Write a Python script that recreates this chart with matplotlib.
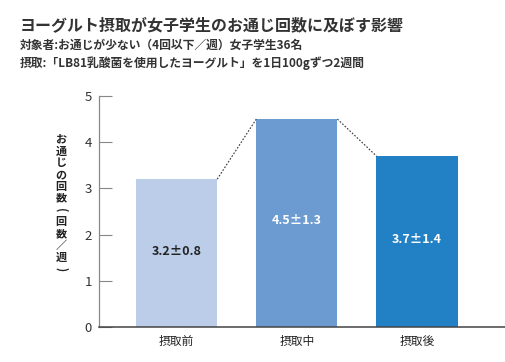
import matplotlib
matplotlib.use("Agg")
from matplotlib import pyplot as plt
import numpy as np

plt.rcParams['font.family'] = ['Noto Sans CJK JP', 'DejaVu Sans']

# data
categories = ['摂取前', '摂取中', '摂取後']
means = [3.2, 4.5, 3.7]
sds = [0.8, 1.3, 1.4]
colors = ['#bccde9', '#6b9bd1', '#2280c5']
label_colors = ['#222222', 'white', 'white']
yticks = [0, 1, 2, 3, 4, 5]

title = 'ヨーグルト摂取が女子学生のお通じ回数に及ぼす影響'
sub1 = '対象者:お通じが少ない（4回以下／週）女子学生36名'
sub2 = '摂取:「LB81乳酸菌を使用したヨーグルト」を1日100gずつ2週間'
ylab = 'お通じの回数(回数／週)'

fig = plt.figure(figsize=(5.06, 3.62), dpi=100)
ax = fig.add_axes([99/506, 1-327/362, 1-99/506, (327-96)/362])

x = np.arange(len(categories))
w = 0.675
ax.bar(x, means, width=w, color=colors, zorder=2)

# dotted connectors between bar tops
for i in range(len(means)-1):
    ax.plot([x[i]+w/2, x[i+1]-w/2], [means[i], means[i+1]],
            ls=(0, (1.5, 1.5)), lw=0.8, color='#333333', zorder=3)

for i in range(len(means)):
    ax.text(x[i], means[i]*0.51, f'{means[i]}±{sds[i]}', ha='center', va='center',
            fontsize=9, fontweight='bold', color=label_colors[i])

ax.set_xlim(-0.646, 2.74)
ax.set_ylim(0, 5)
ax.set_yticks(yticks)
ax.set_xticks(x)
ax.set_xticklabels(categories, fontsize=8.5, color='#222222')
ax.tick_params(axis='x', length=0, pad=6)
ax.tick_params(axis='y', direction='in', length=9, width=0.8, color='#888888',
               labelsize=9.5, labelcolor='#333333', pad=5)
for s in ['top', 'right']:
    ax.spines[s].set_visible(False)
ax.spines['left'].set_color('#888888')
ax.spines['left'].set_linewidth(0.9)
ax.spines['bottom'].set_color('#444444')
ax.spines['bottom'].set_linewidth(1.1)

# vertical y label, one character at a time
step = 11.8
y0 = 204 - step*(len(ylab)-1)/2
for k, ch in enumerate(ylab):
    rot = -90 if ch in '()' else 0
    fig.text(61/506, 1-(y0+k*step)/362, ch, ha='center', va='center', rotation=rot,
             fontsize=8, fontweight='bold', color='#222222')

fig.text(20/506, 1-25/362, title, ha='left', va='center', fontsize=11.5,
         fontweight='bold', color='#333333')
fig.text(20/506, 1-45/362, sub1, ha='left', va='center', fontsize=8.5,
         fontweight='bold', color='#333333')
fig.text(20/506, 1-63/362, sub2, ha='left', va='center', fontsize=8.5,
         fontweight='bold', color='#333333')

fig.savefig('out.png', dpi=100)
